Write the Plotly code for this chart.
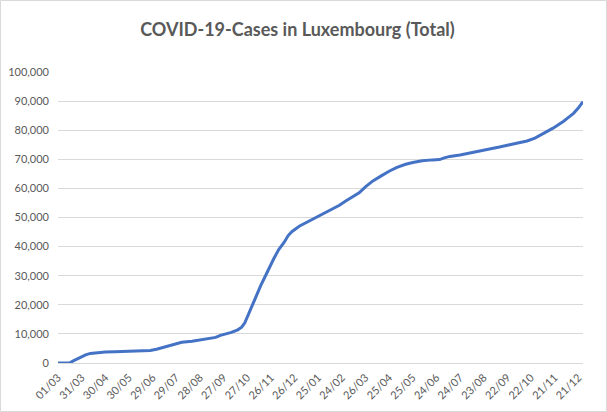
import plotly.graph_objects as go

# cumulative cases
dates = [
    "2020-03-01", "2020-03-16", "2020-03-21", "2020-03-26", "2020-03-31",
    "2020-04-05", "2020-04-11", "2020-04-20", "2020-04-30", "2020-05-12",
    "2020-05-30", "2020-06-14", "2020-06-26", "2020-07-04", "2020-07-09",
    "2020-07-19", "2020-07-29", "2020-08-05", "2020-08-18", "2020-08-28",
    "2020-09-04", "2020-09-12", "2020-09-17", "2020-09-23", "2020-09-30",
    "2020-10-07", "2020-10-15", "2020-10-20", "2020-10-24", "2020-10-27",
    "2020-10-31", "2020-11-04", "2020-11-08", "2020-11-13", "2020-11-18",
    "2020-11-24", "2020-11-30", "2020-12-06", "2020-12-13", "2020-12-18",
    "2020-12-23", "2021-01-01", "2021-01-11", "2021-01-26", "2021-02-05",
    "2021-02-16", "2021-02-21", "2021-03-01", "2021-03-11", "2021-03-18",
    "2021-03-26", "2021-04-04", "2021-04-15", "2021-04-25", "2021-05-05",
    "2021-05-16", "2021-05-25", "2021-06-06", "2021-06-19", "2021-06-28",
    "2021-07-04", "2021-07-11", "2021-07-24", "2021-08-03", "2021-08-13",
    "2021-08-27", "2021-09-12", "2021-09-25", "2021-10-07", "2021-10-17",
    "2021-10-27", "2021-11-02", "2021-11-11", "2021-11-19", "2021-11-26",
    "2021-12-02", "2021-12-09", "2021-12-15", "2021-12-21", "2021-12-27",
]
cases = [
    0, 80, 800, 1500, 2200,
    2800, 3300, 3600, 3800, 3900,
    4000, 4100, 4300, 4700, 5100,
    5800, 6600, 7100, 7500, 7900,
    8200, 8500, 8800, 9500, 9900,
    10500, 11400, 12300, 13800, 15800,
    18500, 21000, 23500, 26500, 29300,
    32800, 36000, 39000, 41500, 43800,
    45200, 47000, 48400, 50400, 51800,
    53300, 54200, 55700, 57300, 58500,
    60500, 62500, 64300, 65900, 67200,
    68300, 68900, 69500, 69800, 69900,
    70500, 71000, 71500, 72000, 72600,
    73300, 74200, 75000, 75700, 76300,
    77300, 78100, 79500, 80700, 81900,
    83000, 84500, 85800, 87600, 89800,
]

y_ticks = [0, 10000, 20000, 30000, 40000, 50000, 60000, 70000, 80000, 90000, 100000]

W, H = 607, 412
L, R, T, B = 58, 24, 72, 49
pw, ph = W - L - R, H - T - B

fig = go.Figure(go.Scatter(
    x=dates, y=cases, mode="lines",
    line=dict(color="#4472C4", width=3),
))

fig.update_layout(
    width=W, height=H,
    margin=dict(l=L, r=R, t=T, b=B),
    paper_bgcolor="white", plot_bgcolor="white",
    showlegend=False,
    font=dict(family="Lato, Open Sans, sans-serif", color="#595959", size=11),
    title=dict(
        text="<b>COVID-19-Cases in Luxembourg (Total)</b>",
        x=0.49, xanchor="center", y=1 - 30 / H, yanchor="middle",
        font=dict(size=18, color="#595959"),
    ),
    xaxis=dict(
        type="date",
        range=["2020-03-01", "2021-12-27"],
        tick0="2020-03-01", dtick=30 * 86400000,
        tickformat="%d/%m", tickangle=-45,
        showgrid=False, zeroline=False, showline=False,
        ticks="", automargin=False, ticklabelstandoff=5,
        tickfont=dict(size=11, color="#595959"),
    ),
    yaxis=dict(
        range=[0, 100000], tickvals=y_ticks,
        tickformat=",d",
        showgrid=True, gridcolor="#D9D9D9", gridwidth=1,
        zeroline=True, zerolinecolor="#D9D9D9", zerolinewidth=1,
        showline=False, ticks="", ticklen=0,
        automargin=False, ticklabelstandoff=8,
        tickfont=dict(size=11, color="#595959"),
    ),
    # light frame round the whole chart, like the spreadsheet chart border
    shapes=[dict(
        type="rect", xref="paper", yref="paper",
        x0=(0.5 - L) / pw, x1=(W - 0.5 - L) / pw,
        y0=-(B - 0.5) / ph, y1=(H - B - 0.5) / ph,
        line=dict(color="#D9D9D9", width=1), fillcolor="rgba(0,0,0,0)",
        layer="below",
    )],
)

# drop the default 8px page margin so the chart sits at the window corner
fig.write_html("out.html", config={"displayModeBar": False},
               post_script="document.body.style.margin='0';")
